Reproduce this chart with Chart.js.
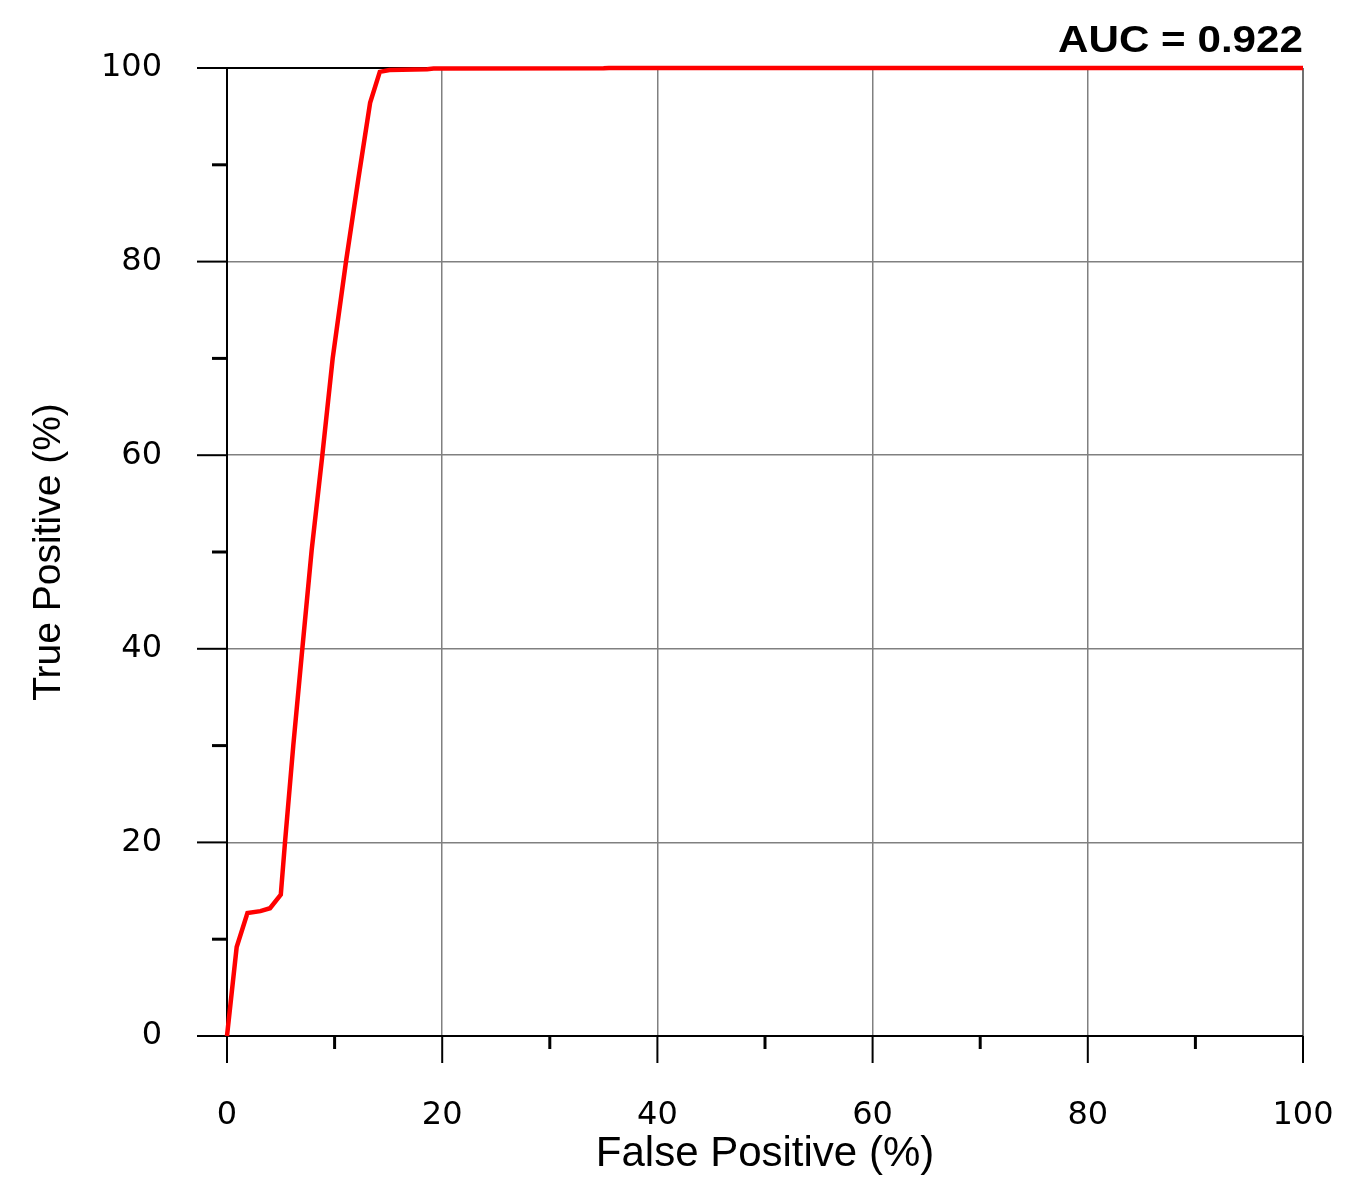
<!DOCTYPE html>
<html>
<head>
<meta charset="utf-8">
<script src="https://cdn.jsdelivr.net/npm/chart.js@4.4.0/dist/chart.umd.min.js"></script>
<style>
  html, body { margin: 0; padding: 0; background: #fff; }
  #wrap { width: 1361px; height: 1193px; }
</style>
</head>
<body>
<div id="wrap"><canvas id="roc"></canvas></div>
<script>
// ROC curve, values (percent)
const falsePositive = [0, 0.9, 1.9, 3.1, 4.0, 5.0, 5.39, 6.16, 7.0, 7.87, 8.86, 9.82, 11.06, 12.2, 13.3, 14.2, 15.1, 18.6, 19.2, 35, 35.5, 100];
const truePositive  = [0, 9.2, 12.7, 12.9, 13.2, 14.6, 20, 30, 40, 50.2, 60, 70, 80, 88.5, 96.4, 99.6, 99.8, 99.88, 99.95, 99.97, 100, 100];

const xLabels = [0, 20, 40, 60, 80, 100];
const yLabels = [0, 20, 40, 60, 80, 100];
const aucText = 'AUC = 0.922';
const xTitle = 'False Positive (%)';
const yTitle = 'True Positive (%)';

const points = falsePositive.map((fp, i) => ({ x: fp, y: truePositive[i] }));

const tickFont = { family: '"DejaVu Sans", sans-serif', size: 32 };
const titleFamily = '"Liberation Sans", Arial, sans-serif';

function gridColor(ctx) {
    const v = ctx.tick.value;
    return (v > 0 && v < 100 && v % 20 === 0) ? '#808080' : 'rgba(0,0,0,0)';
}

// axis lines, frame and tick marks (major every 20, minor in between)
const axisFrame = {
    id: 'axisFrame',
    beforeDatasetsDraw(chart) {
        const { ctx, chartArea: a, scales: { x, y } } = chart;
        ctx.save();
        ctx.lineCap = 'butt';

        ctx.strokeStyle = '#707070';
        ctx.lineWidth = 2;
        ctx.beginPath();
        ctx.moveTo(a.right, a.top);
        ctx.lineTo(a.right, a.bottom);
        ctx.stroke();

        ctx.strokeStyle = '#000';
        ctx.beginPath();
        ctx.moveTo(a.left, a.top);
        ctx.lineTo(a.right, a.top);
        ctx.moveTo(a.left, a.top);
        ctx.lineTo(a.left, a.bottom);
        ctx.moveTo(a.left, a.bottom);
        ctx.lineTo(a.right, a.bottom);
        ctx.stroke();

        x.ticks.forEach(t => {
            const major = t.value % 20 === 0;
            const px = x.getPixelForValue(t.value);
            ctx.lineWidth = major ? 2 : 3;
            ctx.beginPath();
            ctx.moveTo(px, a.bottom);
            ctx.lineTo(px, a.bottom + (major ? 27 : 13));
            ctx.stroke();
        });
        y.ticks.forEach(t => {
            const major = t.value % 20 === 0;
            const py = y.getPixelForValue(t.value);
            ctx.lineWidth = major ? 2 : 3;
            ctx.beginPath();
            ctx.moveTo(a.left - (major ? 30 : 15), py);
            ctx.lineTo(a.left, py);
            ctx.stroke();
        });
        ctx.restore();
    },
    afterDraw(chart) {
        const { ctx, scales: { x } } = chart;
        ctx.save();
        ctx.fillStyle = '#000';
        ctx.font = 'bold 37px ' + titleFamily;
        ctx.textAlign = 'right';
        ctx.textBaseline = 'alphabetic';
        ctx.translate(x.getPixelForValue(100), 52);
        ctx.scale(1.14, 1);
        ctx.fillText(aucText, 0, 0);
        ctx.restore();
    }
};

new Chart(document.getElementById('roc'), {
    type: 'line',
    data: {
        datasets: [{
            data: points,
            borderColor: '#ff0000',
            borderWidth: 4.5,
            pointRadius: 0,
            tension: 0,
            fill: false,
            clip: false
        }]
    },
    options: {
        responsive: true,
        maintainAspectRatio: false,
        animation: false,
        devicePixelRatio: 1,
        layout: { padding: { top: 68, right: 58, bottom: 0, left: 0 } },
        plugins: {
            legend: { display: false },
            tooltip: { enabled: false }
        },
        scales: {
            x: {
                type: 'linear',
                min: 0,
                max: 100,
                afterFit: s => { s.height = 157; },
                border: { display: false },
                // tick marks are drawn by axisFrame; tickLength only offsets the labels
                grid: { color: gridColor, lineWidth: 1.5, drawTicks: true, tickLength: 60, tickColor: 'rgba(0,0,0,0)' },
                ticks: {
                    stepSize: 10,
                    autoSkip: false,
                    maxRotation: 0,
                    padding: 0,
                    color: '#000',
                    font: tickFont,
                    callback: v => xLabels.includes(v) ? String(v) : ''
                },
                title: {
                    display: true,
                    text: xTitle,
                    color: '#000',
                    font: { family: titleFamily, size: 42 },
                    padding: { top: 0, bottom: 13 }
                }
            },
            y: {
                type: 'linear',
                min: 0,
                max: 100,
                afterFit: s => { s.width = 227; },
                border: { display: false },
                grid: { color: gridColor, lineWidth: 1.5, drawTicks: true, tickLength: 65, tickColor: 'rgba(0,0,0,0)' },
                ticks: {
                    stepSize: 10,
                    autoSkip: false,
                    padding: 0,
                    color: '#000',
                    font: tickFont,
                    callback: v => yLabels.includes(v) ? String(v) : ''
                },
                title: {
                    display: true,
                    text: yTitle,
                    color: '#000',
                    font: { family: titleFamily, size: 39 },
                    padding: { top: 26, bottom: 0 }
                }
            }
        }
    },
    plugins: [axisFrame]
});
</script>
</body>
</html>
